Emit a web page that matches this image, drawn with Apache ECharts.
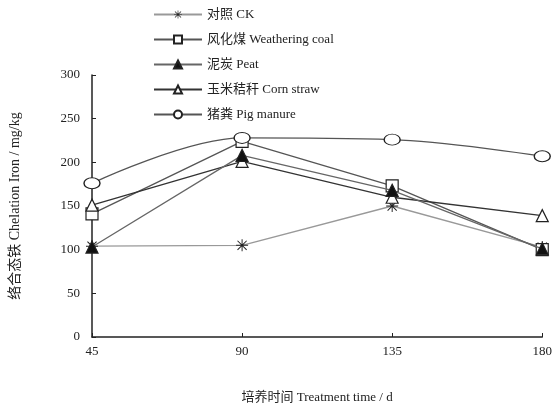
<!DOCTYPE html>
<html>
<head>
<meta charset="utf-8">
<script src="https://cdn.jsdelivr.net/npm/echarts@6/dist/echarts.min.js"></script>
<style>
  html, body { margin: 0; padding: 0; background: #fff; }
  #chart { width: 555px; height: 412px; }
</style>
</head>
<body>
<div id="chart"></div>
<script>
// 培养时间 (d)
const days = [45, 90, 135, 180]
const seriesNames = ['对照 CK', '风化煤 Weathering coal', '泥炭 Peat', '玉米秸秆 Corn straw', '猪粪 Pig manure']
const ck = [104, 105, 150, 103]
const weatheringCoal = [141, 224, 173, 100]
const peat = [103, 208, 168, 101]
const cornStraw = [151, 201, 160, 139]
const pigManure = [176, 228, 226, 207]

const font = "'Liberation Serif', 'Noto Sans CJK SC', serif"
// 星号标记
const asterisk = 'path://M0,4.6h10v0.8h-10z M4.6,0h0.8v10h-0.8z M0.9,1.5 L1.5,0.9 L9.1,8.5 L8.5,9.1z M0.9,8.5 L8.5,0.9 L9.1,1.5 L1.5,9.1z'

const pairs = (vals) => days.map((d, i) => [d, vals[i]])

const mk = (name, vals, opts) => ({
  name: name,
  type: 'line',
  data: pairs(vals),
  symbol: opts.symbol,
  symbolSize: opts.size,
  smooth: opts.smooth || false,
  lineStyle: { color: opts.line, width: 1.3 },
  itemStyle: { color: opts.fill, borderColor: '#222', borderWidth: opts.border == null ? 1.2 : opts.border },
  z: opts.z || 2,
})

const chart = echarts.init(document.getElementById('chart'))
chart.setOption({
  animation: false,
  textStyle: { fontFamily: font },
  grid: { left: 92, right: 8, top: 75, bottom: 75 },
  legend: {
    orient: 'vertical',
    left: 148,
    top: 3,
    itemWidth: 48,
    itemHeight: 10,
    itemGap: 12,
    data: seriesNames,
    textStyle: { fontSize: 13, color: '#222', fontFamily: font },
  },
  xAxis: {
    type: 'value',
    min: 45,
    max: 180,
    interval: 45,
    name: '培养时间 Treatment time / d',
    nameLocation: 'middle',
    nameGap: 54,
    nameTextStyle: { fontSize: 13, color: '#222' },
    axisLine: { lineStyle: { color: '#222', width: 1.5 } },
    axisTick: { inside: true, length: 4, lineStyle: { color: '#222' } },
    axisLabel: { fontSize: 13, color: '#222', margin: 8 },
    splitLine: { show: false },
  },
  yAxis: {
    type: 'value',
    min: 0,
    max: 300,
    interval: 50,
    name: '络合态铁 Chelation Iron / mg/kg',
    nameLocation: 'middle',
    nameGap: 70,
    nameTextStyle: { fontSize: 14, color: '#222' },
    axisLine: { show: true, lineStyle: { color: '#222', width: 1.5 } },
    axisTick: { show: true, inside: true, length: 4, lineStyle: { color: '#222' } },
    axisLabel: { fontSize: 13, color: '#222', margin: 12 },
    splitLine: { show: false },
  },
  series: [
    mk(seriesNames[0], ck, { symbol: asterisk, size: 12, line: '#999', fill: '#222', border: 0 }),
    mk(seriesNames[1], weatheringCoal, { symbol: 'rect', size: 12, line: '#555', fill: '#fff' }),
    mk(seriesNames[2], peat, { symbol: 'triangle', size: 12, line: '#666', fill: '#111', z: 4 }),
    mk(seriesNames[3], cornStraw, { symbol: 'triangle', size: 12, line: '#333', fill: '#fff' }),
    mk(seriesNames[4], pigManure, { symbol: 'circle', size: [16, 11], line: '#555', fill: '#fff', smooth: 0.35 }),
  ],
})
</script>
</body>
</html>
